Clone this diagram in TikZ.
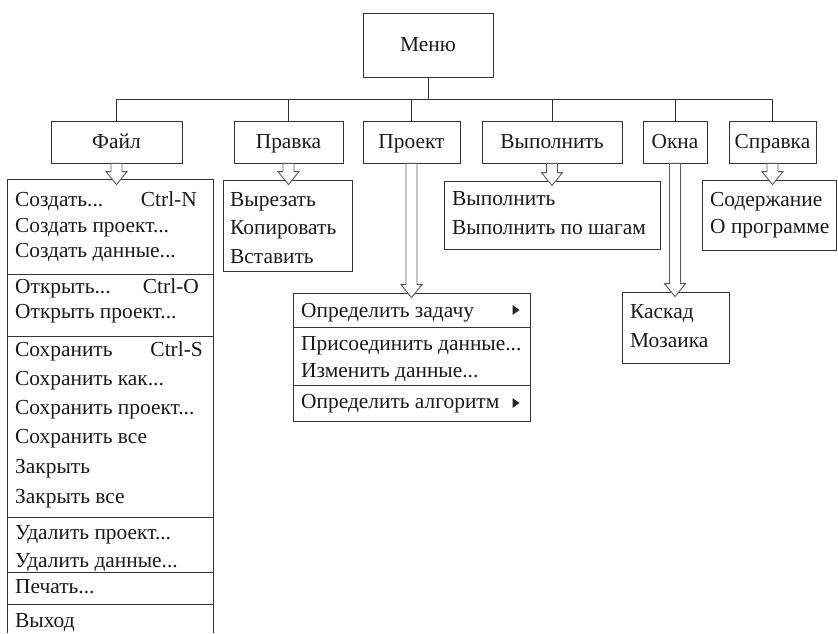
\documentclass[tikz,border=0pt]{standalone}
\usepackage{fontspec}
\setmainfont{Liberation Serif}
\usetikzlibrary{calc,positioning}

% hollow down arrow from one node to the list below it
\newcommand{\openarrow}[2]{%
  \draw[hollow] let \p1=(#1.south), \p2=(#2.north) in
    (\x1-5.5pt,\y1) -- (\x1-5.5pt,\y2+8pt) -- (\x1-10.5pt,\y2+8pt) -- (\x1,\y2-5pt)
    -- (\x1+10.5pt,\y2+8pt) -- (\x1+5.5pt,\y2+8pt) -- (\x1+5.5pt,\y1) -- cycle;}
\newcommand{\etc}{...}

\begin{document}
\begin{tikzpicture}[x=1pt,y=-1pt,
  font=\fontsize{21.4}{25}\selectfont,
  menubox/.style={draw=black!80,line width=0.8pt,rectangle,minimum height=42pt,inner sep=0pt,
    text height=14pt,text depth=2pt,text=black!90},
  listbox/.style={draw=black!80,line width=0.8pt,rectangle,inner sep=0pt},
  item/.style={anchor=base west,inner sep=0pt,text=black!90},
  hotkey/.style={anchor=base east,inner sep=0pt,text=black!90},
  wire/.style={draw=black!80,line width=0.8pt},
  hollow/.style={draw=black!65,fill=white,line width=0.9pt,line join=miter}
]
\useasboundingbox (0,0) rectangle (838,633);

% Top menu
\node[menubox,minimum width=130pt,minimum height=64pt] (menu) at (428,45) {Меню};
\node[menubox,minimum width=131pt] (file) at (116.5,142) {Файл};
\node[menubox,minimum width=109pt] (edit) at (288.5,142) {Правка};
\node[menubox,minimum width=97pt] (proj) at (411.5,142) {Проект};
\node[menubox,minimum width=140pt] (run) at (552,142) {Выполнить};
\node[menubox,minimum width=64pt] (win) at (675,142) {Окна};
\node[menubox,minimum width=87pt] (help) at (772.5,142) {Справка};

% Tree lines
\coordinate (hub) at (428,99);
\draw[wire] (menu.south) -- (hub);
\foreach \n in {file,edit,proj,run,win,help}
  \draw[wire] (hub) -| (\n.north);

% File list (runs off the bottom)
\node[listbox,draw=none,minimum width=205pt,minimum height=453pt] (filelist) at (110.5,406.5) {};
\draw[wire] (filelist.south west) |- (filelist.north east) -- (filelist.south east);
\foreach \y/\t [count=\i] in {206/Создать\etc,232/Создать проект\etc,257/Создать данные\etc,
    293/Открыть\etc,318/Открыть проект\etc,356/Сохранить,385/Сохранить как\etc,
    414/Сохранить проект\etc,443/Сохранить все,473/Закрыть,503/Закрыть все,
    539/Удалить проект\etc,567/Удалить данные\etc,593/Печать\etc,627/Выход}
  \node[item] (f\i) at (15,\y) {\t};
\node[hotkey] (ctrln) at (197,206) {Ctrl-N};
\node[hotkey] (ctrlo) at (199,293) {Ctrl-O};
\node[hotkey] (ctrls) at (203,356) {Ctrl-S};
\foreach \y in {274,336,517,572,604}
  \draw[wire] (filelist.west |- 0,\y) -- (filelist.east |- 0,\y);

% Edit list
\node[listbox,minimum width=129pt,minimum height=91pt] (editlist) at (287.5,225.5) {};
\node[item] (e1) at (230,206) {Вырезать};
\node[item] (e2) at (230,234) {Копировать};
\node[item] (e3) at (230,263) {Вставить};

% Project list
\node[listbox,minimum width=237pt,minimum height=128pt] (projlist) at (411.5,357) {};
\node[item] (p1) at (301,317) {Определить задачу};
\node[item] (p2) at (301,350) {Присоединить данные\etc};
\node[item] (p3) at (301,377) {Изменить данные\etc};
\node[item] (p4) at (301,408) {Определить алгоритм};
\foreach \y in {327,385}
  \draw[wire] (projlist.west |- 0,\y) -- (projlist.east |- 0,\y);
\fill[black!85] (512.5,305) -- (519.5,310) -- (512.5,315) -- cycle;
\fill[black!85] (512.5,398) -- (519.5,403) -- (512.5,408) -- cycle;

% Run list
\node[listbox,minimum width=216pt,minimum height=68pt] (runlist) at (552,215) {};
\node[item] (r1) at (452,205) {Выполнить};
\node[item] (r2) at (452,234) {Выполнить по шагам};

% Windows list
\node[listbox,minimum width=107pt,minimum height=71pt] (winlist) at (675.5,327.5) {};
\node[item] (w1) at (630,318) {Каскад};
\node[item] (w2) at (630,347) {Мозаика};

% Help list
\node[listbox,minimum width=134pt,minimum height=70pt] (helplist) at (769,215) {};
\node[item] (h1) at (710,206) {Содержание};
\node[item] (h2) at (710,233) {О программе};

% Hollow arrows
\openarrow{file}{filelist}
\openarrow{edit}{editlist}
\openarrow{proj}{projlist}
\openarrow{run}{runlist}
\openarrow{win}{winlist}
\openarrow{help}{helplist}

\end{tikzpicture}
\end{document}
